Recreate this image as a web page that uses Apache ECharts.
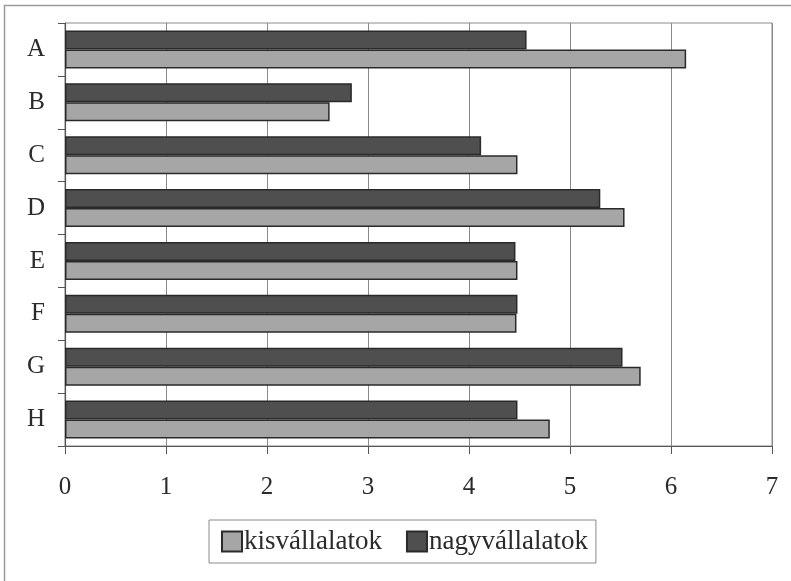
<!DOCTYPE html>
<html>
<head>
<meta charset="utf-8">
<script src="https://cdn.jsdelivr.net/npm/echarts@6/dist/echarts.min.js"></script>
<style>
  html, body { margin: 0; padding: 0; background: #ffffff; }
  #chart { width: 791px; height: 581px; }
</style>
</head>
<body>
<div id="chart"></div>
<script>
// Categories (top to bottom) and the two company-size series
const categories = ['A', 'B', 'C', 'D', 'E', 'F', 'G', 'H'];
const kisvallalatok = [6.15, 2.62, 4.48, 5.54, 4.48, 4.47, 5.70, 4.80];
const nagyvallalatok = [4.57, 2.84, 4.12, 5.30, 4.46, 4.48, 5.52, 4.48];
const xTicks = [0, 1, 2, 3, 4, 5, 6, 7];

const FONT = 'Liberation Serif';
const TEXT = '#2b2b2b';

const chart = echarts.init(document.getElementById('chart'), null, { renderer: 'canvas' });

chart.setOption({
  backgroundColor: '#ffffff',
  animation: false,
  textStyle: { fontFamily: FONT, color: TEXT },
  graphic: [{
    // frame around the figure (left and top edges visible)
    type: 'rect',
    shape: { x: 4.5, y: 5.5, width: 900, height: 700 },
    style: { fill: 'none', stroke: '#9a9a9a', lineWidth: 1.5 },
    silent: true
  }],
  grid: {
    left: 65, right: 19, top: 23, bottom: 135,
    show: true, borderColor: '#8a8a8a', borderWidth: 1
  },
  legend: {
    data: ['kisvállalatok', 'nagyvállalatok'],
    left: 209, top: 520,
    orient: 'horizontal',
    icon: 'rect',
    itemWidth: 20, itemHeight: 20, itemGap: 24,
    padding: [8, 8, 8, 12],
    borderColor: '#8a8a8a', borderWidth: 1,
    textStyle: { fontFamily: FONT, fontSize: 27, color: TEXT, padding: [0, 0, 0, -3] },
    selectedMode: false
  },
  xAxis: {
    type: 'value',
    min: xTicks[0], max: xTicks[xTicks.length - 1], interval: 1,
    axisLine: { show: true, lineStyle: { color: '#555', width: 1.2 } },
    axisTick: { show: true, length: 8, lineStyle: { color: '#555' } },
    axisLabel: { margin: 29, fontFamily: FONT, fontSize: 25, color: TEXT },
    splitLine: { show: true, lineStyle: { color: '#8a8a8a', width: 1 } }
  },
  yAxis: {
    type: 'category',
    data: categories,
    inverse: true,
    axisLine: { show: true, lineStyle: { color: '#555', width: 1.2 } },
    axisTick: { show: true, length: 7, lineStyle: { color: '#555' } },
    axisLabel: { margin: 20, fontFamily: FONT, fontSize: 25, color: TEXT }
  },
  series: [
    {
      name: 'nagyvállalatok',
      type: 'bar',
      data: nagyvallalatok,
      barGap: '0%',
      barCategoryGap: '28%',
      itemStyle: { color: '#4f4f4f', borderColor: '#2a2a2a', borderWidth: 1.5 }
    },
    {
      name: 'kisvállalatok',
      type: 'bar',
      data: kisvallalatok,
      barGap: '0%',
      barCategoryGap: '28%',
      itemStyle: { color: '#a6a6a6', borderColor: '#2a2a2a', borderWidth: 1.5 }
    }
  ]
});
</script>
</body>
</html>
